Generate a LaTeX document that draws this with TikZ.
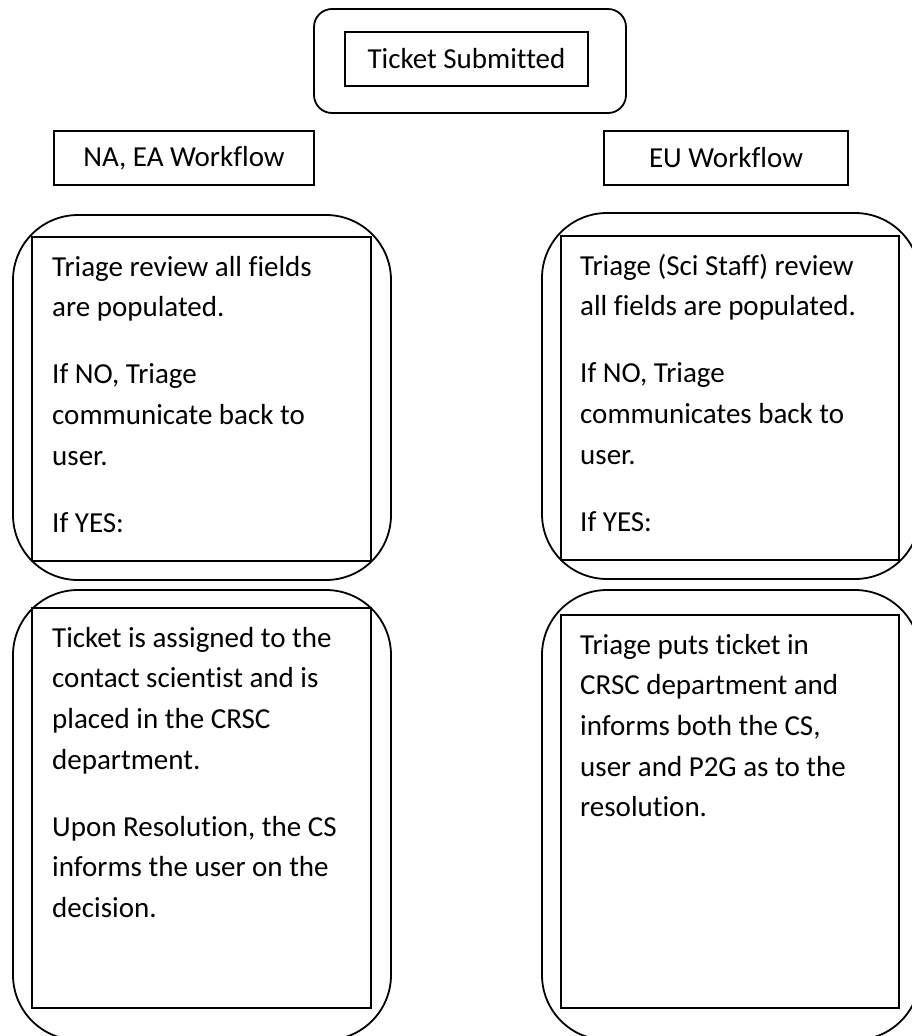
\documentclass[tikz,border=0pt]{standalone}
\usepackage{fontspec}
\setmainfont{Carlito}[Ligatures={NoCommon}]
\newcommand\wtext[1]{\parbox[t]{330pt}{\raggedright\fontsize{29pt}{40.7pt}\selectfont\setlength{\parskip}{26.4pt}#1}}
\begin{document}
\begin{tikzpicture}[x=1pt,y=-1pt,
  every node/.style={font=\fontsize{29pt}{40.7pt}\selectfont, inner sep=0pt},
  plainbox/.style={draw, line width=1.5pt},
  roundbox/.style={draw, line width=1.8pt, rounded corners=#1},
  bodytext/.style={anchor=base west}]
\clip (0,0) rectangle (912,1036);
\fill[white] (0,0) rectangle (912,1036);
% top
\node[roundbox=18pt, minimum width=312pt, minimum height=104pt] (topouter) at (470,61) {};
\node[plainbox, minimum width=243pt, minimum height=54pt] (ticket) at (466.5,59) {Ticket Submitted};
% workflow headers
\node[plainbox, minimum width=260pt, minimum height=54pt] (naea) at (184,158) {NA, EA Workflow};
\node[plainbox, minimum width=244pt, minimum height=54pt] (eu) at (726,158) {EU Workflow};
% left column
\node[roundbox=65pt, minimum width=378pt, minimum height=365pt] (lto) at (202,397.5) {};
\node[plainbox, minimum width=339pt, minimum height=324pt] (lti) at (201.5,399) {};
\node[roundbox=65pt, minimum width=378pt, minimum height=450pt] (lbo) at (202,815) {};
\node[plainbox, minimum width=339pt, minimum height=400pt] (lbi) at (201.5,808) {};
% right column
\node[roundbox=65pt, minimum width=378pt, minimum height=366pt] (rto) at (731,396) {};
\node[plainbox, minimum width=338pt, minimum height=324pt] (rti) at (730,398) {};
\node[roundbox=65pt, minimum width=378pt, minimum height=450pt] (rbo) at (731,815) {};
\node[plainbox, minimum width=338pt, minimum height=393pt] (rbi) at (730,811.5) {};
% texts
\node[bodytext] (ltt) at (52,276) {\wtext{Triage review all fields\\ are populated.\par If NO, Triage\\ communicate back to\\ user.\par If YES:}};
\node[bodytext] (lbt) at (52,647) {\wtext{Ticket is assigned to the\\ contact scientist and is\\ placed in the CRSC\\ department.\par Upon Resolution, the CS\\ informs the user on the\\ decision.}};
\node[bodytext] (rtt) at (580,275) {\wtext{Triage (Sci Staff) review\\ all fields are populated.\par If NO, Triage\\ communicates back to\\ user.\par If YES:}};
\node[bodytext] (rbt) at (580,654) {\wtext{Triage puts ticket in\\ CRSC department and\\ informs both the CS,\\ user and P2G as to the\\ resolution.}};
\end{tikzpicture}
\end{document}
